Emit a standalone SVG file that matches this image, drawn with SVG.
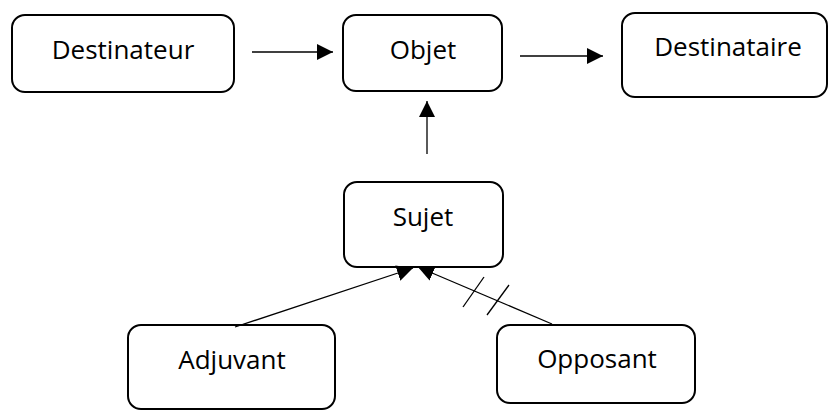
<svg xmlns="http://www.w3.org/2000/svg" width="829" height="411" viewBox="0 0 829 411">
<defs>
<marker id="ah" markerUnits="userSpaceOnUse" markerWidth="16" markerHeight="16" viewBox="0 0 16 16" refX="16" refY="8" orient="auto">
<path d="M0,0 L16,8 L0,16 Z" fill="#000"/>
</marker>
<style>
.box{fill:#fff;stroke:#000;stroke-width:2}
.lbl{font-family:"Open Sans","Liberation Sans",sans-serif;font-size:26px;fill:#000;text-anchor:middle}
.con{stroke:#000;stroke-width:1.3;fill:none}
</style>
</defs>
<rect width="829" height="411" fill="#fff"/>
<g id="destinateur"><rect class="box" x="12" y="15" width="222" height="77" rx="13"/><text class="lbl" x="123" y="59">Destinateur</text></g>
<g id="objet"><rect class="box" x="343" y="15" width="159" height="76" rx="13"/><text class="lbl" x="423" y="59">Objet</text></g>
<g id="destinataire"><rect class="box" x="622" y="13" width="205" height="84" rx="13"/><text class="lbl" x="728" y="56">Destinataire</text></g>
<g id="sujet"><rect class="box" x="344" y="182" width="159" height="85" rx="13"/><text class="lbl" x="423" y="226">Sujet</text></g>
<g id="adjuvant"><rect class="box" x="128" y="325" width="207" height="84" rx="13"/><text class="lbl" x="232" y="369">Adjuvant</text></g>
<g id="opposant"><rect class="box" x="497" y="325" width="198" height="78" rx="13"/><text class="lbl" x="597" y="368">Opposant</text></g>
<g id="connectors">
<line class="con" x1="252" y1="52" x2="333" y2="52" marker-end="url(#ah)"/>
<line class="con" x1="520" y1="56" x2="603" y2="56" marker-end="url(#ah)"/>
<line class="con" x1="427" y1="154" x2="427" y2="101" marker-end="url(#ah)"/>
<line class="con" x1="235" y1="327" x2="413" y2="268" marker-end="url(#ah)"/>
<line class="con" x1="552" y1="324" x2="418" y2="267" marker-end="url(#ah)"/>
<line class="con" x1="463" y1="307" x2="484" y2="277"/>
<line class="con" x1="487" y1="315" x2="509" y2="285"/>
</g>
</svg>
